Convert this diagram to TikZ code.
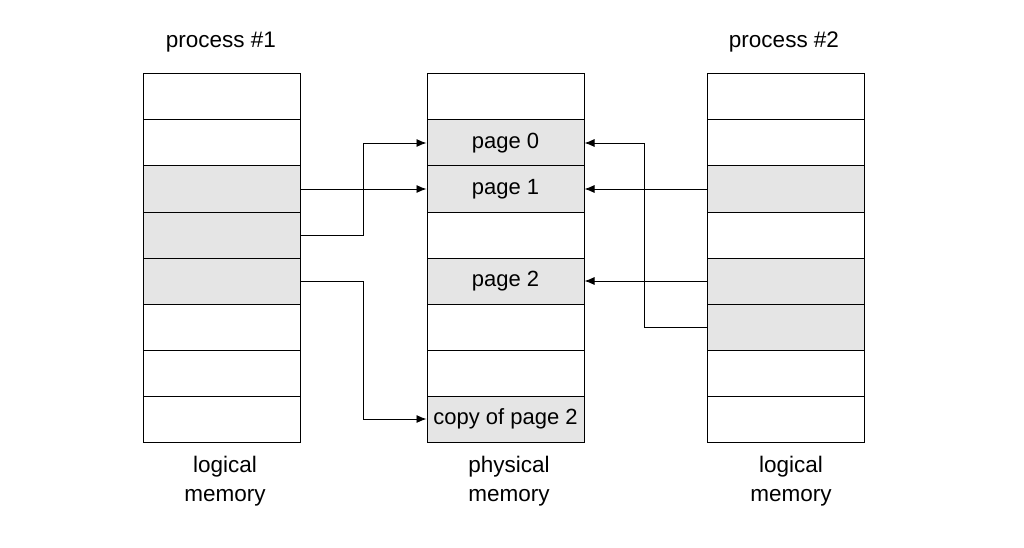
\documentclass[tikz,border=0pt]{standalone}
\usepackage{fontspec}
\setmainfont{Liberation Sans}
\usetikzlibrary{arrows.meta}
\tikzset{
  cell/.style={draw, line width=1pt, minimum width=157pt, minimum height=46pt, inner sep=0pt, font=\fontsize{22}{26}\selectfont},
  used/.style={fill=black!10},
  link/.style={line width=0.9pt, -{Latex[length=10pt,width=8pt]}},
  caption/.style={align=center, font=\fontsize{22.5}{29}\selectfont}
}
\begin{document}
\begin{tikzpicture}[x=1pt,y=-1pt]
        \useasboundingbox (0,0) rectangle (1024,548);
        % logical memory of process 1
        \foreach \i/\s in {0/,1/,2/used,3/used,4/used,5/,6/,7/}
          \node[cell,\s] (l\i) at (221.5,97+46*\i) {};
        % physical memory
        \foreach \i/\s/\t in {0//,1/used/page 0,2/used/page 1,3//,4/used/page 2,5//,6//,7/used/copy of page 2}
          \node[cell,\s] (m\i) at (505.5,97+46*\i) {\t};
        % logical memory of process 2
        \foreach \i/\s in {0/,1/,2/used,3/,4/used,5/used,6/,7/}
          \node[cell,\s] (r\i) at (785.5,97+46*\i) {};
        % titles
        \node[caption] (p1) at (221,42) {process \#1};
        \node[caption] (p2) at (784,42) {process \#2};
        \node[caption] (c1) at (225,481) {logical\\memory};
        \node[caption] (c2) at (509,481) {physical\\memory};
        \node[caption] (c3) at (791,481) {logical\\memory};
        % mappings
        \draw[link] (l2.east) -- (m2.west);
        \draw[link] (l3.east) -- ++(63,0) |- (m1.west);
        \draw[link] (l4.east) -- ++(63,0) |- (m7.west);
        \draw[link] (r2.west) -- (m2.east);
        \draw[link] (r4.west) -- (m4.east);
        \draw[link] (r5.west) -- ++(-62,0) |- (m1.east);
\end{tikzpicture}
\end{document}
